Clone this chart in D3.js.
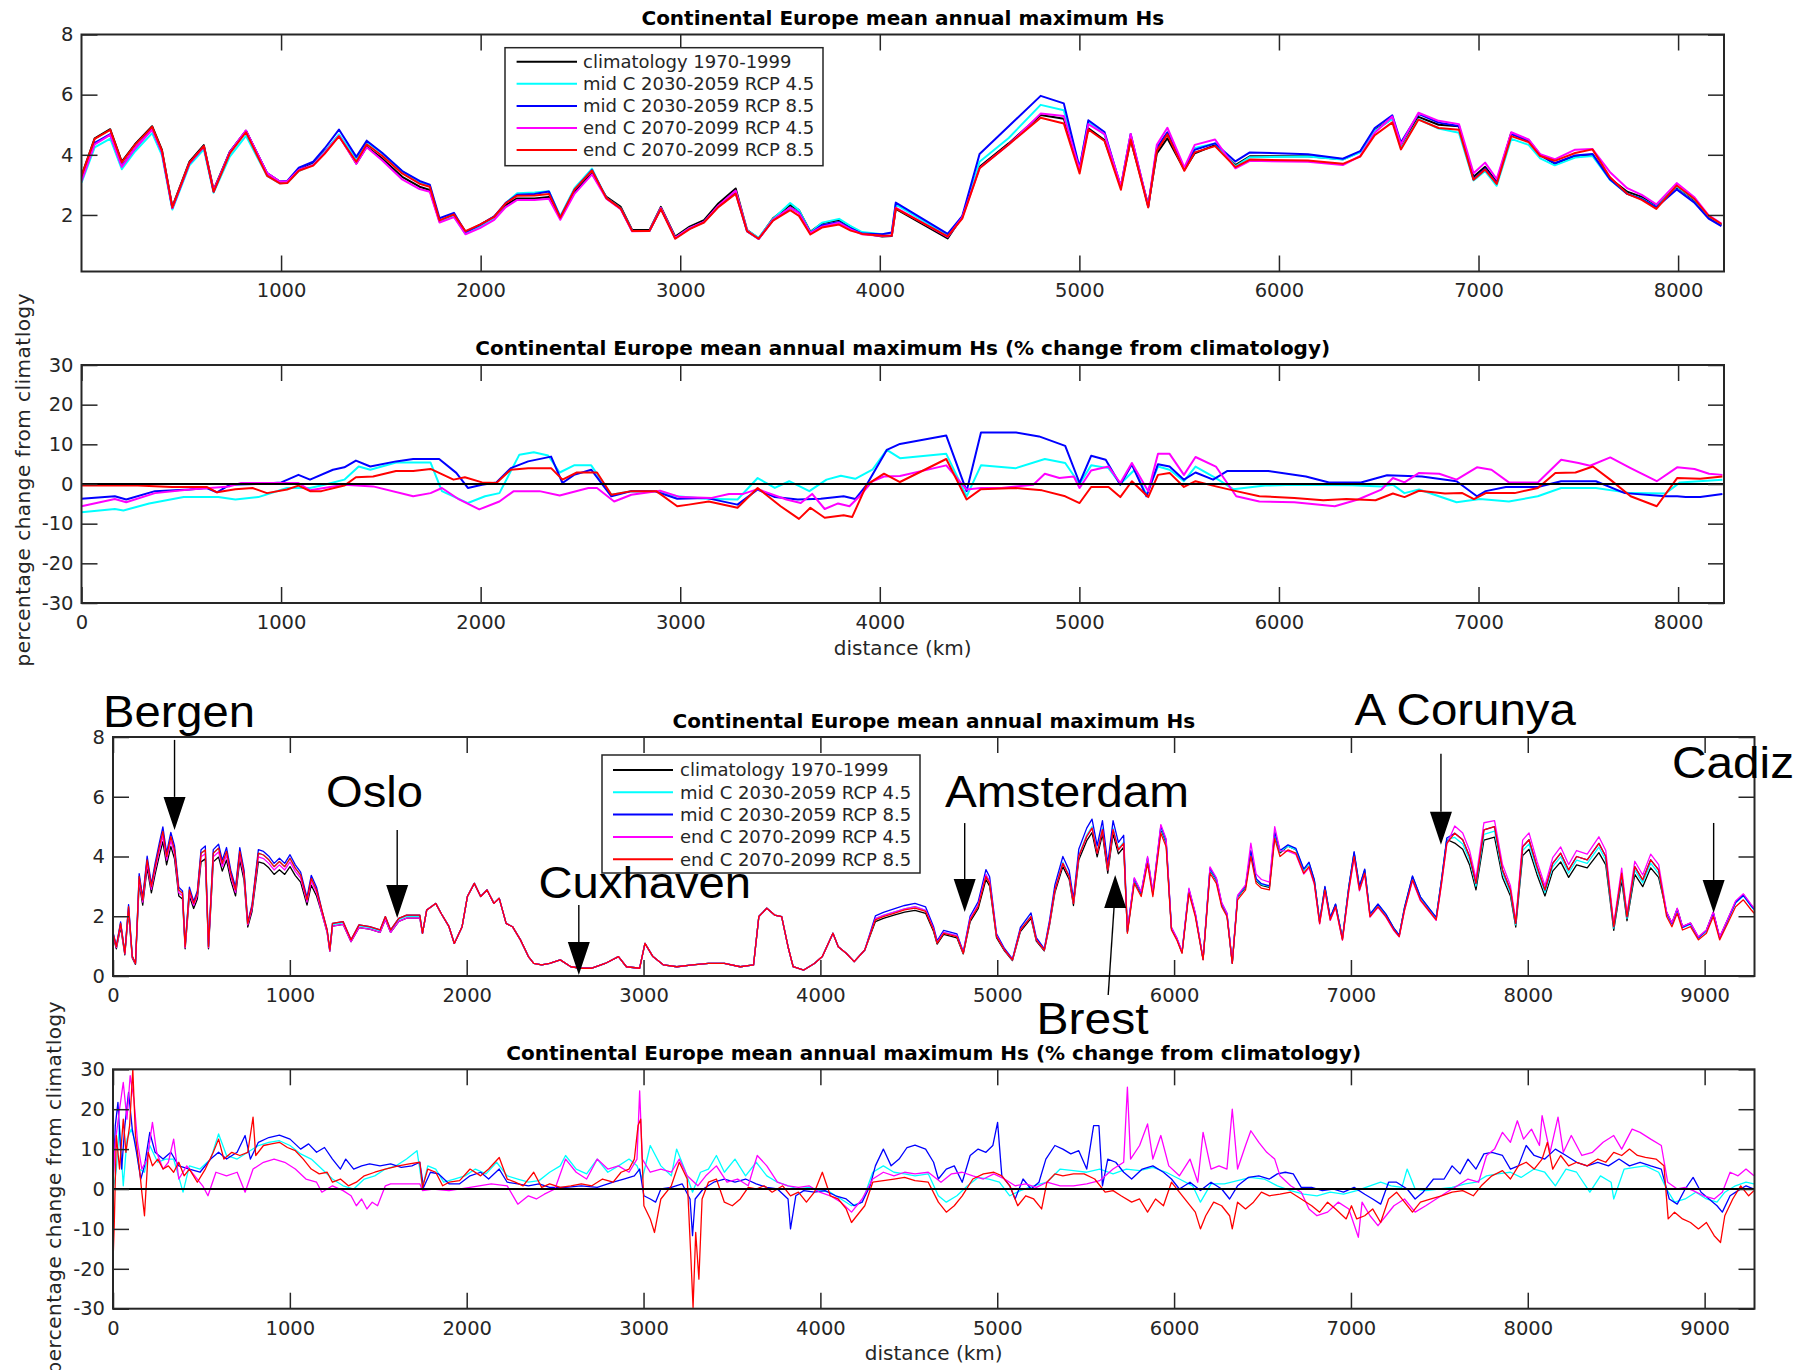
<!DOCTYPE html>
<html><head><meta charset="utf-8">
<script src="https://cdn.jsdelivr.net/npm/d3@7"></script>
<style>html,body{margin:0;padding:0;background:#fff;}svg{display:block;}</style>
</head><body>
<svg id="chart" width="1810" height="1370"></svg>
<script>
// ================= DATA =================
const seriesNames = ["climatology 1970-1999","mid C 2030-2059 RCP 4.5","mid C 2030-2059 RCP 8.5","end C 2070-2099 RCP 4.5","end C 2070-2099 RCP 8.5"];
const seriesColors = ["#000000","#00ffff","#0000ff","#ff00ff","#ff0000"];
const title1 = "Continental Europe mean annual maximum Hs";
const title2 = "Continental Europe mean annual maximum Hs (% change from climatology)";
const xLabelText = "distance (km)";
const yLabelText = "percentage change from climatlogy";
const ticksX12 = [1000,2000,3000,4000,5000,6000,7000,8000];
const ticksX2 = [0,1000,2000,3000,4000,5000,6000,7000,8000];
const ticksX34 = [0,1000,2000,3000,4000,5000,6000,7000,8000,9000];
const ticksHs1 = [2,4,6,8];
const ticksHs3 = [0,2,4,6,8];
const ticksPct = [-30,-20,-10,0,10,20,30];

// ---- Panel 1 (coarse coastline), distance km ----
const dist1 = [0,66,144,202,268,354,403,455,541,613,662,743,824,930,994,1031,1089,1161,1218,1290,1377,1429,1506,1607,1694,1745,1794,1866,1924,1996,2068,2126,2183,2270,2342,2399,2471,2558,2630,2702,2759,2846,2903,2975,3047,3119,3191,3278,3335,3393,3465,3551,3595,3652,3710,3796,3854,3911,4012,4060,4080,4340,4413,4500,4646,4806,4922,5001,5045,5126,5208,5257,5345,5388,5441,5526,5578,5680,5782,5854,6145,6320,6407,6480,6568,6611,6699,6800,6902,6975,7033,7091,7164,7251,7309,7382,7484,7571,7658,7745,7818,7891,7993,8080,8153,8217];
const clim1 = [3.30,4.55,4.85,3.77,4.35,4.95,4.16,2.27,3.77,4.32, 2.83,4.10,4.80,3.38,3.10,3.10,3.49,3.71,4.10,4.65, 3.71,4.27,3.88,3.27,2.94,2.83,1.78,2.00,1.44,1.67, 1.94,2.33,2.55,2.55,2.60,1.89,2.77,3.38,2.60,2.27, 1.50,1.50,2.27,1.28,1.61,1.83,2.38,2.88,1.50,1.22, 1.89,2.33,2.16,1.44,1.72,1.83,1.61,1.39,1.28,1.30, 2.20,1.22,1.94,3.60,4.38,5.32,5.20,3.55,4.88,4.49, 2.94,4.49,2.33,4.05,4.55,3.50,4.05,4.32,3.66,3.95, 3.95,3.85,4.10,4.82,5.20,4.32,5.26,5.00,4.95,3.27, 3.60,3.10,4.73,4.49,4.00,3.71,3.95,4.00,3.22,2.77, 2.60,2.33,2.94,2.50,1.94,1.67];
const mid45_1 = [3.07,4.25,4.54,3.52,4.11,4.72,3.99,2.18,3.65,4.18, 2.74,3.94,4.63,3.30,3.05,3.07,3.46,3.68,4.09,4.68, 3.86,4.43,4.05,3.45,3.10,2.98,1.78,1.95,1.37,1.61, 1.89,2.40,2.72,2.75,2.79,1.96,2.90,3.54,2.56,2.22, 1.47,1.47,2.22,1.24,1.56,1.76,2.29,2.77,1.49,1.24, 1.87,2.40,2.16,1.42,1.74,1.87,1.63,1.43,1.36,1.40, 2.35,1.31,1.92,3.77,4.56,5.66,5.48,3.55,5.10,4.67, 2.94,4.64,2.27,4.22,4.72,3.52,4.23,4.38,3.62,3.92, 3.94,3.84,4.08,4.80,5.19,4.22,5.19,4.87,4.73,3.15, 3.46,2.97,4.53,4.33,3.88,3.65,3.91,3.96,3.17,2.71, 2.54,2.27,2.95,2.52,1.96,1.69];
const mid85_1 = [3.18,4.40,4.69,3.63,4.21,4.86,4.09,2.23,3.72,4.27, 2.78,4.09,4.80,3.39,3.11,3.13,3.57,3.77,4.21,4.84, 3.93,4.47,4.07,3.46,3.13,3.01,1.89,2.07,1.43,1.66, 1.95,2.40,2.67,2.70,2.78,1.92,2.84,3.49,2.56,2.21, 1.47,1.47,2.21,1.23,1.55,1.77,2.28,2.73,1.45,1.20, 1.83,2.24,2.08,1.39,1.66,1.77,1.55,1.38,1.36,1.42, 2.41,1.37,1.96,4.03,4.95,5.96,5.71,3.56,5.15,4.76, 2.93,4.69,2.27,4.23,4.75,3.54,4.17,4.38,3.78,4.08, 4.02,3.87,4.12,4.89,5.31,4.41,5.36,5.07,4.96,3.19, 3.54,3.06,4.69,4.46,3.98,3.72,3.98,4.03,3.19,2.70, 2.53,2.26,2.85,2.42,1.88,1.63];
const end45_1 = [3.12,4.35,4.66,3.60,4.21,4.84,4.08,2.23,3.72,4.27, 2.81,4.08,4.81,3.39,3.11,3.11,3.50,3.66,4.06,4.63, 3.70,4.25,3.82,3.18,2.86,2.77,1.75,1.93,1.36,1.56, 1.84,2.26,2.50,2.50,2.54,1.84,2.71,3.35,2.54,2.19, 1.46,1.47,2.23,1.24,1.56,1.77,2.31,2.81,1.47,1.20, 1.84,2.24,2.06,1.40,1.61,1.74,1.52,1.36,1.30,1.32, 2.24,1.27,1.91,3.56,4.34,5.37,5.29,3.51,5.02,4.69, 2.95,4.69,2.29,4.33,4.90,3.58,4.33,4.51,3.55,3.80, 3.77,3.66,3.96,4.73,5.27,4.34,5.40,5.13,5.02,3.39, 3.74,3.19,4.75,4.51,4.02,3.85,4.17,4.19,3.43,2.89, 2.67,2.35,3.06,2.60,1.99,1.71];
const end85_1 = [3.29,4.53,4.83,3.75,4.33,4.93,4.14,2.25,3.74,4.29, 2.77,4.05,4.75,3.30,3.05,3.06,3.47,3.64,4.03,4.61, 3.77,4.35,3.97,3.38,3.04,2.94,1.82,2.02,1.46,1.68, 1.94,2.39,2.64,2.65,2.70,1.91,2.85,3.48,2.56,2.21, 1.47,1.47,2.20,1.21,1.53,1.75,2.26,2.71,1.46,1.21, 1.81,2.16,1.97,1.35,1.58,1.68,1.48,1.37,1.31,1.32, 2.22,1.29,1.88,3.55,4.34,5.23,5.04,3.38,4.84,4.46, 2.84,4.51,2.25,4.13,4.68,3.47,4.08,4.29,3.59,3.84, 3.81,3.70,3.94,4.65,5.08,4.18,5.17,4.89,4.83,3.17, 3.51,3.03,4.62,4.42,3.96,3.80,4.06,4.18,3.26,2.70, 2.50,2.20,2.98,2.54,1.97,1.70];

// ---- Panel 2: % change, [distance km, %] ----
const pct2_mid45 = [[0,-7.1],[167,-6.3],[210,-6.7],[339,-4.9],[512,-3.3],[685,-3.3],[771,-3.9],[886,-3.3],[1030,-1.0],[1145,-1.0],[1217,-0.2],[1317,1.1],[1389,4.4],[1447,3.6],[1576,5.4],[1749,5.4],[1806,-1.8],[1936,-4.8],[2022,-3.1],[2094,-2.3],[2194,7.4],[2266,8.0],[2338,7.2],[2396,2.9],[2468,4.7],[2554,4.7],[2655,-2.7],[2755,-1.8],[2870,-1.8],[2985,-3.1],[3129,-3.7],[3287,-3.9],[3388,1.5],[3474,-1.0],[3546,0.7],[3647,-1.8],[3733,1.1],[3805,2.1],[3877,1.3],[3963,3.6],[4035,8.6],[4101,6.5],[4333,7.6],[4435,-3.1],[4507,4.7],[4682,4.0],[4827,6.3],[4929,5.3],[5001,0],[5059,4.7],[5146,4.0],[5205,0],[5277,3.6],[5336,-2.7],[5394,4.4],[5452,3.6],[5524,0.7],[5582,4.4],[5684,1.5],[5771,-1.3],[5931,-0.4],[6077,-0.2],[6367,-0.3],[6513,-0.6],[6571,-0.2],[6629,-2.3],[6702,-1.4],[6890,-4.6],[7007,-3.8],[7152,-4.4],[7297,-3.1],[7414,-1.0],[7588,-1.0],[7762,-2.3],[7937,-2.4],[8009,0.4],[8222,1.1]];
const pct2_mid85 = [[0,-3.7],[167,-3.1],[224,-3.9],[368,-1.8],[541,-1.4],[627,-1.0],[679,-2.1],[742,-0.2],[886,0],[1001,0.4],[1087,2.3],[1145,1.1],[1260,3.6],[1317,4.2],[1375,5.9],[1447,4.4],[1576,5.7],[1662,6.3],[1792,6.3],[1878,2.8],[1936,-1.0],[2007,-0.2],[2079,0.4],[2151,4.0],[2238,5.7],[2353,6.9],[2410,0.25],[2468,2.3],[2554,3.6],[2655,-3.1],[2755,-1.8],[2870,-1.8],[2985,-3.7],[3129,-3.5],[3287,-5.2],[3388,-1.4],[3474,-3.3],[3589,-3.9],[3704,-3.7],[3819,-3.1],[3877,-3.8],[3934,-0.2],[4035,8.6],[4101,10.1],[4333,12.2],[4435,-1.8],[4507,13.0],[4682,13.0],[4798,12.0],[4929,9.6],[5001,0.25],[5059,7.1],[5132,6.1],[5205,-0.2],[5263,4.9],[5336,-3.1],[5394,5.0],[5452,4.4],[5524,1.1],[5582,2.9],[5670,1.1],[5742,3.3],[5946,3.3],[6135,1.9],[6251,0.4],[6411,0.4],[6542,2.2],[6716,1.9],[6890,0.7],[6992,-3.1],[7036,-1.8],[7137,-0.75],[7297,-0.75],[7414,0.7],[7588,0.7],[7733,-2.3],[7937,-3.1],[7995,-3.1],[8038,-3.3],[8111,-3.3],[8222,-2.5]];
const pct2_end45 = [[0,-5.6],[167,-3.8],[224,-4.6],[368,-2.3],[541,-1.4],[742,-0.6],[800,0.25],[1087,0.25],[1145,-1.6],[1317,-0.2],[1461,-0.6],[1662,-3.1],[1749,-2.3],[1806,-1.0],[1892,-3.9],[1993,-6.4],[2094,-4.4],[2166,-1.8],[2295,-1.8],[2396,-2.9],[2540,-1.0],[2583,-1.0],[2669,-4.4],[2755,-2.7],[2899,-1.7],[3000,-3.3],[3158,-3.5],[3244,-2.5],[3316,-2.5],[3388,-1.3],[3532,-3.9],[3604,-4.8],[3661,-2.5],[3724,-6.3],[3791,-4.9],[3848,-5.6],[3906,-2.7],[3963,0.7],[4021,1.9],[4101,2.0],[4333,4.7],[4435,-1.4],[4507,-1.0],[4609,-1.0],[4769,-0.2],[4827,2.6],[4900,1.5],[4972,1.9],[5001,-1.0],[5059,3.4],[5146,4.4],[5205,0.25],[5263,5.3],[5345,-1.8],[5394,7.6],[5452,7.6],[5524,2.3],[5582,6.8],[5684,4.4],[5786,-3.1],[5902,-4.4],[6077,-4.6],[6280,-5.6],[6396,-3.9],[6513,-1.4],[6571,1.5],[6629,0.4],[6702,2.8],[6803,2.6],[6890,1.1],[6992,4.2],[7065,3.6],[7152,0.4],[7297,0.4],[7414,6.1],[7501,5.3],[7559,4.6],[7660,6.7],[7762,4.0],[7893,0.7],[7995,4.2],[8082,3.8],[8155,2.6],[8222,2.3]];
const pct2_end85 = [[0,-0.4],[282,-0.4],[454,-0.75],[627,-0.75],[679,-2.1],[771,-1.3],[857,-1.0],[929,-2.3],[1030,-1.4],[1087,-0.4],[1145,-1.8],[1202,-1.8],[1317,-0.4],[1375,1.7],[1461,1.9],[1576,3.3],[1662,3.3],[1749,3.8],[1864,1.1],[1921,1.7],[2007,0.4],[2079,0.25],[2151,3.6],[2238,4.0],[2353,4.0],[2410,1.1],[2482,2.9],[2583,2.9],[2655,-2.7],[2755,-1.8],[2880,-1.8],[2985,-5.6],[3043,-5.2],[3143,-4.4],[3287,-6.0],[3388,-1.0],[3503,-5.6],[3595,-8.8],[3652,-6.0],[3724,-8.5],[3819,-7.9],[3862,-8.3],[3934,-0.2],[4021,2.6],[4101,0.5],[4333,6.3],[4435,-3.9],[4507,-1.3],[4682,-1.0],[4813,-1.6],[4929,-3.1],[5001,-4.8],[5059,-0.75],[5146,-0.75],[5205,-3.3],[5263,0.7],[5345,-3.3],[5394,2.3],[5452,2.8],[5524,-0.75],[5582,0.7],[5684,-0.6],[5786,-1.8],[5902,-3.1],[6077,-3.5],[6222,-4.1],[6338,-3.8],[6484,-4.1],[6571,-2.4],[6629,-3.3],[6702,-1.7],[6832,-2.4],[6919,-2.3],[6977,-3.8],[7036,-2.3],[7181,-2.3],[7297,-1.0],[7385,2.8],[7486,2.9],[7573,4.4],[7660,1.1],[7762,-3.1],[7893,-5.6],[7995,1.5],[8111,1.3],[8222,1.9]];

// ---- Panel 3 (fine coastline), distance km ----
const dist3 = [0,19,43,67,88,109,127,148,168,193,217,238,262,282,303,327,348,372,393,408,432,456,477,498,522,540,567,597,618,642,666,693,717,741,762,786,822,851,881,911,941,971,1001,1031,1061,1097,1121,1151,
 1181,1211,1226,1241,1301,1346,1391,1451,1510,1540,1570,1616,1660,1735,
 1750,1774,1825,1855,1900,1930,1974,2004,2043,2079,2115,2154,2184,2223,2259,2304,2349,2379,2424,2469,2529,2589,2648,2708,2783,2858,2903,2978,3008,3053,3113,3188,3277,3367,3457,3547,3622,3652,3697,3741,3781,3817,3846,3906,3966,4011,4071,4101,4146,4191,4251,
 4311,4356,4416,4476,4535,4595,4640,4660,4697,4772,4808,4847,4892,4936,4957,4996,
 5041,5086,5131,5191,5221,5266,5296,5326,5371,5407,5431,5461,5506,5536,5565,5595,5625,5655,5685,5715,
 5736,5775,5814,5850,5880,5925,5955,5985,6015,6045,6084,6120,6164,6203,6239,6269,6299,6329,6359,6404,6434,6464,6494,6539,6569,6599,
 6644,6689,6733,6763,6793,6823,6853,6883,6913,6952,6988,7018,7048,7078,7108,7153,7198,7243,7273,7303,7348,7393,7438,7482,7512,7542,
 7587,7632,7671,7707,7752,7812,7857,7902,7932,7971,8007,8052,8097,8141,8186,8231,8276,8336,8402,8441,8486,8531,8561,8605,8650,8695,8740,
 8785,8815,8845,8875,8920,8965,9010,9049,9085,9130,9175,9219,9264,9280];
const clim3 = [1.33,0.91,1.64,0.71,2.16,0.60,0.39,3.10,2.37,3.62,2.78,3.40,4.03,4.50,3.72,4.34,3.92,2.68,2.58,0.91,2.68,2.26,2.58,3.82,3.92,0.91,3.82,3.98,3.51,3.88,3.20,2.68,3.88,3.20,1.64,2.16,3.82,3.77,3.62,3.40,3.56,3.40,3.66,3.36,3.14,2.37,3.04,2.68,
 2.10,1.46,0.83,1.67,1.73,1.15,1.62,1.57,1.46,1.89,1.46,1.83,1.94,1.94,
 1.43,2.21,2.43,2.10,1.65,1.09,1.65,2.66,3.10,2.66,2.88,2.43,2.60,1.76,1.65,1.21,0.65,0.42,0.37,0.42,0.54,0.31,0.26,0.26,0.42,0.65,0.31,0.26,1.09,0.65,0.37,0.31,0.37,0.42,0.42,0.31,0.37,1.99,2.27,2.04,1.99,0.98,0.31,0.20,0.42,0.65,1.43,0.98,0.76,0.48,0.87,
 1.82,1.93,2.04,2.14,2.20,2.10,1.49,1.07,1.39,1.28,0.74,1.82,2.25,3.23,3.01,1.28,
 0.84,0.52,1.49,1.93,1.17,0.84,1.71,2.79,3.66,3.23,2.36,3.88,4.53,4.80,3.99,4.75,3.44,4.75,4.09,4.31,
 1.47,3.19,2.74,3.88,2.74,4.92,4.46,1.59,1.25,0.78,2.85,2.05,0.56,3.54,3.19,2.39,2.05,0.43,2.63,2.97,4.12,3.19,3.03,2.97,4.74,4.12,
 4.35,4.23,3.54,3.77,3.19,1.81,2.97,1.94,2.39,1.25,2.97,4.12,2.97,3.54,2.05,2.39,2.05,1.59,1.36,2.28,3.32,2.63,2.28,1.94,3.19,4.57,
 4.45,4.24,3.72,2.88,4.55,4.65,3.30,2.68,1.64,4.03,4.24,3.40,2.68,3.51,3.82,3.30,3.72,3.62,4.13,3.72,1.53,3.20,1.85,3.40,2.99,3.62,3.30,
 2.13,1.77,2.25,1.65,1.77,1.29,1.53,2.13,1.29,1.88,2.48,2.73,2.36,2.25];
const mid45_3 = [1.43,0.98,1.76,0.76,2.32,0.65,0.42,3.33,2.55,3.89,2.99,3.66,4.33,4.84,4.00,4.67,4.22,2.88,2.77,0.98,2.88,2.43,2.77,4.11,4.22,0.98,4.11,4.28,3.77,4.17,3.44,2.88,4.17,3.44,1.76,2.32,4.11,4.05,3.89,3.66,3.83,3.66,3.94,3.61,3.38,2.55,3.27,2.88,
 2.17,1.51,0.85,1.72,1.78,1.19,1.68,1.62,1.51,1.95,1.51,1.89,2.00,2.00,
 1.43,2.21,2.43,2.10,1.65,1.09,1.65,2.66,3.10,2.66,2.88,2.43,2.60,1.76,1.65,1.21,0.65,0.42,0.37,0.42,0.54,0.31,0.26,0.26,0.42,0.65,0.31,0.26,1.09,0.65,0.37,0.31,0.37,0.42,0.42,0.31,0.37,1.99,2.27,2.04,1.99,0.98,0.31,0.20,0.42,0.65,1.43,0.98,0.76,0.48,0.87,
 1.92,2.03,2.14,2.25,2.32,2.20,1.57,1.12,1.46,1.35,0.78,1.92,2.37,3.40,3.16,1.35,
 0.88,0.55,1.56,2.01,1.22,0.88,1.78,2.91,3.81,3.36,2.45,4.04,4.72,5.00,4.15,4.95,3.59,4.95,4.26,4.48,
 1.49,3.22,2.77,3.92,2.77,4.97,4.50,1.60,1.26,0.79,2.88,2.07,0.56,3.58,3.22,2.41,2.07,0.44,2.65,3.00,4.16,3.22,3.06,3.00,4.78,4.16,
 4.35,4.23,3.54,3.77,3.19,1.81,2.97,1.94,2.39,1.25,2.97,4.12,2.97,3.54,2.05,2.39,2.05,1.59,1.36,2.28,3.32,2.63,2.28,1.94,3.19,4.57,
 4.64,4.42,3.88,3.01,4.74,4.85,3.44,2.79,1.71,4.20,4.42,3.55,2.79,3.66,3.99,3.44,3.88,3.77,4.31,3.88,1.60,3.34,1.93,3.55,3.12,3.77,3.44,
 2.09,1.73,2.21,1.62,1.73,1.27,1.50,2.09,1.27,1.85,2.44,2.68,2.32,2.21];
const mid85_3 = [1.47,1.01,1.81,0.78,2.39,0.67,0.43,3.43,2.63,4.01,3.08,3.77,4.46,4.99,4.12,4.81,4.35,2.97,2.85,1.01,2.97,2.50,2.85,4.23,4.35,1.01,4.23,4.41,3.88,4.30,3.54,2.97,4.30,3.54,1.81,2.39,4.23,4.17,4.01,3.77,3.94,3.77,4.06,3.72,3.48,2.63,3.37,2.97,
 2.21,1.54,0.87,1.76,1.82,1.21,1.71,1.65,1.54,1.99,1.54,1.93,2.04,2.04,
 1.43,2.21,2.43,2.10,1.65,1.09,1.65,2.66,3.10,2.66,2.88,2.43,2.60,1.76,1.65,1.21,0.65,0.42,0.37,0.42,0.54,0.31,0.26,0.26,0.42,0.65,0.31,0.26,1.09,0.65,0.37,0.31,0.37,0.42,0.42,0.31,0.37,1.99,2.27,2.04,1.99,0.98,0.31,0.20,0.42,0.65,1.43,0.98,0.76,0.48,0.87,
 2.01,2.13,2.25,2.36,2.43,2.31,1.65,1.18,1.53,1.41,0.81,2.01,2.48,3.56,3.32,1.41,
 0.92,0.57,1.63,2.11,1.28,0.92,1.87,3.05,4.00,3.53,2.58,4.24,4.95,5.25,4.36,5.20,3.76,5.20,4.47,4.71,
 1.50,3.26,2.79,3.96,2.79,5.02,4.55,1.62,1.27,0.80,2.91,2.09,0.57,3.61,3.26,2.44,2.09,0.44,2.68,3.02,4.20,3.26,3.09,3.02,4.83,4.20,
 4.39,4.27,3.58,3.81,3.22,1.83,3.00,1.96,2.41,1.26,3.00,4.16,3.00,3.58,2.07,2.41,2.07,1.60,1.37,2.30,3.35,2.65,2.30,1.96,3.22,4.62,
 4.78,4.56,4.00,3.10,4.89,5.00,3.55,2.88,1.76,4.33,4.56,3.66,2.88,3.77,4.11,3.55,4.00,3.89,4.44,4.00,1.65,3.44,1.99,3.66,3.22,3.89,3.55,
 2.11,1.75,2.23,1.63,1.75,1.28,1.52,2.11,1.28,1.87,2.46,2.70,2.34,2.23];
const end45_3 = [1.39,0.95,1.71,0.74,2.25,0.63,0.41,3.23,2.47,3.77,2.90,3.55,4.20,4.69,3.88,4.53,4.09,2.79,2.69,0.95,2.79,2.36,2.69,3.99,4.09,0.95,3.99,4.15,3.66,4.04,3.34,2.79,4.04,3.34,1.71,2.25,3.99,3.93,3.77,3.55,3.72,3.55,3.82,3.50,3.28,2.47,3.17,2.79,
 2.10,1.46,0.83,1.67,1.73,1.15,1.62,1.57,1.46,1.89,1.46,1.83,1.94,1.94,
 1.43,2.21,2.43,2.10,1.65,1.09,1.65,2.66,3.10,2.66,2.88,2.43,2.60,1.76,1.65,1.21,0.65,0.42,0.37,0.42,0.54,0.31,0.26,0.26,0.42,0.65,0.31,0.26,1.09,0.65,0.37,0.31,0.37,0.42,0.42,0.31,0.37,1.99,2.27,2.04,1.99,0.98,0.31,0.20,0.42,0.65,1.43,0.98,0.76,0.48,0.87,
 1.92,2.03,2.14,2.25,2.32,2.20,1.57,1.12,1.46,1.35,0.78,1.92,2.37,3.40,3.16,1.35,
 0.87,0.54,1.54,1.99,1.21,0.87,1.76,2.88,3.77,3.33,2.43,4.00,4.67,4.95,4.11,4.90,3.55,4.90,4.22,4.44,
 1.52,3.29,2.82,4.00,2.82,5.07,4.59,1.63,1.28,0.81,2.94,2.11,0.57,3.65,3.29,2.46,2.11,0.45,2.70,3.05,4.45,3.41,3.23,3.14,5.00,4.20,
 4.18,4.07,3.41,3.62,3.07,1.74,2.85,1.86,2.30,1.20,2.85,3.96,2.85,3.41,1.97,2.30,1.97,1.52,1.31,2.19,3.19,2.52,2.19,1.86,3.07,4.40,
 5.02,4.79,4.20,3.26,5.13,5.20,3.73,3.02,1.85,4.55,4.79,3.84,3.02,3.96,4.32,3.73,4.20,4.08,4.66,4.20,1.73,3.61,2.09,3.84,3.38,4.08,3.73,
 2.15,1.78,2.27,1.66,1.78,1.31,1.54,2.15,1.31,1.90,2.51,2.75,2.39,2.27];
const end85_3 = [1.43,0.98,1.76,0.76,2.32,0.65,0.42,3.33,2.55,3.89,2.99,3.66,4.33,4.84,4.00,4.67,4.22,2.88,2.77,0.98,2.88,2.43,2.77,4.11,4.22,0.98,4.11,4.28,3.77,4.17,3.44,2.88,4.17,3.44,1.76,2.32,4.11,4.05,3.89,3.66,3.83,3.66,3.94,3.61,3.38,2.55,3.27,2.88,
 2.21,1.54,0.87,1.76,1.82,1.21,1.71,1.65,1.54,1.99,1.54,1.93,2.04,2.04,
 1.43,2.21,2.43,2.10,1.65,1.09,1.65,2.66,3.10,2.66,2.88,2.43,2.60,1.76,1.65,1.21,0.65,0.42,0.37,0.42,0.54,0.31,0.26,0.26,0.42,0.65,0.31,0.26,1.09,0.65,0.37,0.31,0.37,0.42,0.42,0.31,0.37,1.99,2.27,2.04,1.99,0.98,0.31,0.20,0.42,0.65,1.43,0.98,0.76,0.48,0.87,
 1.88,1.99,2.10,2.21,2.27,2.16,1.54,1.10,1.43,1.32,0.76,1.88,2.32,3.33,3.10,1.32,
 0.87,0.54,1.54,1.99,1.21,0.87,1.76,2.88,3.77,3.33,2.43,4.00,4.67,4.95,4.11,4.90,3.55,4.90,4.22,4.44,
 1.43,3.10,2.66,3.77,2.66,4.78,4.33,1.54,1.21,0.76,2.77,1.99,0.54,3.44,3.10,2.32,1.99,0.42,2.55,2.88,4.00,3.10,2.94,2.88,4.60,4.00,
 4.22,4.11,3.44,3.66,3.10,1.76,2.88,1.88,2.32,1.21,2.88,4.00,2.88,3.44,1.99,2.32,1.99,1.54,1.32,2.21,3.22,2.55,2.21,1.88,3.10,4.44,
 4.78,4.56,4.00,3.10,4.89,5.00,3.55,2.88,1.76,4.33,4.56,3.66,2.88,3.77,4.11,3.55,4.00,3.89,4.44,4.00,1.65,3.44,1.99,3.66,3.22,3.89,3.55,
 1.99,1.65,2.10,1.54,1.65,1.21,1.43,1.99,1.21,1.76,2.32,2.55,2.21,2.10];

// ---- Panel 4: % change, [distance km, %] ----
const pct4_mid45 = [[0,-0.8],[19,5.0],[37,15.9],[58,0.8],[79,12.5],[103,15.0],[127,11.7],[148,5.0],[178,4.2],[208,10.9],[253,6.7],[298,7.5],[343,7.5],[396,-0.8],[432,5.8],[492,5.0],[552,7.5],[597,13.8],[642,8.4],[702,7.5],[762,9.2],[822,10.9],[881,11.7],[941,12.1],[1001,10.9],[1061,8.8],[1121,7.5],[1181,5.0],[1241,2.5],[1301,0.8],[1361,0],[1421,2.5],[1480,3.3],[1540,5.0],[1600,5.8],[1660,7.5],[1719,9.6],[1750,0.4],[1780,5.8],[1825,5.0],[1870,1.7],[1930,2.5],[1990,3.3],[2049,5.0],[2109,3.8],[2169,6.7],[2229,3.3],[2289,2.5],[2349,1.7],[2409,2.1],[2469,4.2],[2529,5.8],[2559,8.4],[2619,5.0],[2678,3.8],[2738,7.5],[2798,4.2],[2858,5.8],[2918,7.5],[2963,5.8],[2993,2.5],[3038,10.9],[3098,5.8],[3157,3.3],[3187,10.0],[3232,5.0],[3277,-0.8],[3322,4.2],[3367,5.0],[3412,8.4],[3457,4.2],[3517,7.5],[3577,3.3],[3637,6.7],[3697,3.3],[3757,1.7],[3817,0.8],[3876,0],[3936,0.4],[3996,-0.4],[4056,-0.8],[4116,-2.5],[4176,-4.2],[4236,-3.3],[4296,4.2],[4356,5.8],[4416,4.2],[4476,3.8],[4535,3.3],[4610,3.8],[4667,-1.7],[4712,-3.3],[4772,-1.7],[4832,0.8],[4892,2.9],[4952,2.5],[5012,1.7],[5071,-1.7],[5131,-0.4],[5206,0.8],[5281,1.7],[5356,5.0],[5431,4.6],[5506,4.2],[5580,5.0],[5655,3.8],[5730,5.0],[5805,4.6],[5880,5.4],[5955,4.2],[6030,2.5],[6105,0.8],[6149,-3.3],[6209,1.3],[6284,1.3],[6359,2.1],[6434,2.9],[6509,2.5],[6584,0.8],[6659,-0.4],[6733,-1.3],[6808,-1.7],[6883,-0.8],[6958,-1.3],[7033,-0.4],[7108,0.8],[7168,1.7],[7228,0.8],[7288,0.4],[7318,5.0],[7363,0],[7423,-0.4],[7497,0],[7572,0.4],[7647,1.3],[7707,1.7],[7767,3.3],[7827,3.8],[7902,4.2],[7962,2.9],[8036,5.0],[8096,4.2],[8156,0.8],[8216,5.0],[8276,4.2],[8351,-0.8],[8411,3.3],[8471,1.7],[8486,-2.5],[8545,5.0],[8605,5.4],[8665,5.8],[8740,4.2],[8785,0],[8830,-3.3],[8890,-2.5],[8950,-0.8],[9010,-2.5],[9070,-3.3],[9114,-0.8],[9174,0.8],[9234,1.7],[9279,1.3]];
const pct4_mid85 = [[0,0.8],[13,15.9],[28,21.7],[49,5.0],[67,15.9],[88,24.2],[109,15.0],[133,9.2],[157,2.5],[178,5.8],[208,14.2],[238,9.2],[283,7.5],[327,9.2],[372,5.8],[432,5.0],[492,4.2],[552,7.5],[597,9.2],[642,7.5],[702,9.2],[747,13.4],[777,7.5],[822,11.7],[881,12.9],[941,13.5],[1001,12.5],[1061,10.0],[1106,11.3],[1151,9.2],[1196,10.4],[1241,7.5],[1286,5.0],[1316,7.5],[1361,5.0],[1406,5.8],[1451,6.3],[1510,5.8],[1570,6.3],[1630,5.4],[1690,5.8],[1735,6.7],[1756,0.4],[1795,4.2],[1840,3.8],[1900,1.3],[1960,1.3],[2019,3.3],[2079,4.2],[2124,2.5],[2184,5.0],[2229,1.7],[2289,1.3],[2349,0.8],[2409,1.3],[2469,0.4],[2559,0.4],[2648,0.8],[2738,0.4],[2828,1.7],[2888,2.5],[2948,3.3],[2978,5.0],[3002,-1.7],[3038,-2.5],[3068,-3.3],[3098,0],[3157,0.4],[3218,1.3],[3263,-2.5],[3277,-11.7],[3292,-2.5],[3337,0],[3397,1.7],[3457,2.5],[3517,1.7],[3577,2.5],[3637,1.3],[3697,0.4],[3757,0],[3817,-2.5],[3831,-10.0],[3861,-1.7],[3906,-0.4],[3966,-0.8],[4026,-0.4],[4086,-1.7],[4146,-2.5],[4191,-4.2],[4236,-3.3],[4281,0.8],[4311,5.8],[4356,10.0],[4400,5.8],[4445,7.5],[4490,10.4],[4535,11.0],[4595,10.0],[4640,6.7],[4667,2.5],[4712,5.0],[4757,5.8],[4802,1.7],[4847,8.4],[4892,10.0],[4936,9.2],[4975,10.9],[5002,16.7],[5026,3.3],[5071,0.8],[5101,-2.5],[5146,2.5],[5191,0],[5236,1.7],[5275,7.5],[5326,10.9],[5371,10.0],[5416,8.8],[5461,9.6],[5506,5.0],[5545,15.9],[5575,15.9],[5595,0.8],[5625,7.5],[5670,6.7],[5715,4.2],[5760,2.5],[5820,5.0],[5880,5.8],[5940,4.2],[5985,2.5],[6030,0],[6090,1.7],[6149,-0.4],[6209,1.7],[6269,0],[6314,-2.5],[6359,0.8],[6419,2.9],[6479,3.3],[6539,2.5],[6584,3.8],[6629,4.2],[6674,3.8],[6719,0.4],[6778,0.4],[6838,-0.4],[6898,0],[6958,-0.8],[7018,0.4],[7078,-1.3],[7123,-2.5],[7168,-3.8],[7213,1.7],[7258,1.7],[7318,0],[7363,-2.5],[7408,-0.8],[7467,2.5],[7527,2.5],[7572,5.8],[7617,3.8],[7662,7.5],[7707,5.0],[7752,8.8],[7797,9.2],[7857,8.4],[7902,5.0],[7947,5.8],[7991,10.9],[8036,8.4],[8096,7.5],[8156,10.0],[8216,8.4],[8276,6.7],[8336,5.8],[8396,6.7],[8456,5.8],[8516,7.5],[8575,5.8],[8635,6.7],[8695,5.8],[8755,5.0],[8800,-2.5],[8845,-3.8],[8890,0],[8935,2.9],[8980,-0.8],[9025,-2.5],[9070,-4.2],[9100,-5.8],[9144,-1.7],[9189,-0.4],[9234,0.8],[9279,0]];
const pct4_end45 = [[0,1.7],[13,11.7],[37,20.0],[58,26.7],[79,17.5],[97,28.4],[118,22.6],[139,11.7],[163,5.0],[193,7.5],[223,16.7],[247,9.2],[283,5.0],[313,6.7],[343,12.5],[372,2.5],[417,5.8],[462,3.3],[507,0.8],[537,-1.7],[582,4.2],[642,3.3],[702,4.2],[747,-0.8],[792,5.0],[851,6.7],[911,7.5],[971,6.7],[1031,5.0],[1091,2.5],[1151,1.7],[1181,-0.8],[1241,0.8],[1301,-0.4],[1346,-1.7],[1376,-4.2],[1406,-2.5],[1436,-5.0],[1466,-3.3],[1496,-4.2],[1540,0.8],[1570,1.3],[1735,1.3],[1750,-0.4],[1810,0],[1900,-0.4],[2019,0.4],[2139,1.3],[2229,0.8],[2289,-3.8],[2349,-1.7],[2394,-2.5],[2439,-1.3],[2499,0],[2559,7.5],[2619,4.2],[2678,2.5],[2738,7.5],[2798,5.0],[2858,5.8],[2918,4.2],[2963,7.5],[2978,24.6],[2993,7.5],[3038,4.2],[3098,5.0],[3157,4.2],[3202,7.5],[3247,3.3],[3307,0.8],[3352,3.3],[3412,5.8],[3472,1.7],[3532,2.5],[3592,0.8],[3643,8.4],[3697,5.8],[3757,1.7],[3817,0.8],[3876,0.4],[3936,0.8],[3996,-0.8],[4056,-1.7],[4116,-3.3],[4176,-5.8],[4236,-2.5],[4296,2.5],[4356,4.2],[4416,3.3],[4476,4.2],[4535,3.8],[4610,4.2],[4682,1.7],[4742,3.8],[4802,4.2],[4862,3.3],[4922,2.5],[4981,3.8],[5041,2.5],[5101,0.8],[5161,1.3],[5221,0.4],[5281,1.7],[5356,0.8],[5431,0.8],[5506,1.3],[5580,2.1],[5655,5.0],[5715,6.7],[5736,25.5],[5754,7.5],[5805,10.9],[5850,16.3],[5880,7.5],[5925,13.4],[5970,5.8],[6030,3.3],[6090,7.5],[6134,1.7],[6164,14.2],[6209,5.0],[6254,5.8],[6299,5.0],[6329,20.0],[6359,5.0],[6404,10.9],[6434,14.6],[6479,11.7],[6524,9.2],[6569,7.5],[6599,3.3],[6659,0.8],[6719,-0.8],[6763,-5.0],[6808,-6.7],[6868,-5.8],[6928,-3.3],[6988,-5.0],[7042,-12.1],[7063,-3.3],[7108,-6.7],[7153,-9.2],[7198,-6.7],[7243,-4.2],[7303,-2.5],[7363,-5.8],[7423,-4.2],[7482,-2.5],[7542,-0.8],[7602,0.8],[7662,2.5],[7722,1.7],[7767,8.4],[7812,10.0],[7857,14.2],[7902,11.7],[7941,17.1],[7976,12.5],[8021,15.0],[8066,10.9],[8081,18.4],[8126,9.2],[8171,18.0],[8201,9.2],[8246,13.4],[8306,8.4],[8366,9.2],[8426,11.7],[8486,13.4],[8531,10.0],[8590,15.0],[8635,14.2],[8695,12.5],[8755,10.9],[8791,1.7],[8845,0],[8890,0.4],[8935,-0.4],[8995,-1.7],[9054,-2.5],[9100,-0.8],[9144,4.2],[9189,3.3],[9234,5.0],[9279,3.3]];
const pct4_end85 = [[0,-18.4],[7,-9.2],[19,13.4],[37,5.0],[58,17.5],[73,9.2],[94,15.9],[112,30.0],[127,13.4],[148,5.8],[163,-0.8],[178,-6.7],[199,9.2],[223,5.8],[253,7.5],[283,5.0],[313,5.8],[343,4.2],[372,6.7],[402,3.3],[432,5.0],[477,1.7],[522,5.0],[567,9.2],[597,12.5],[627,7.5],[672,9.2],[717,8.4],[762,9.2],[792,18.0],[807,8.4],[851,10.9],[896,11.3],[941,11.7],[986,10.4],[1031,9.6],[1076,7.5],[1121,5.0],[1166,3.8],[1211,4.2],[1241,1.7],[1286,2.5],[1331,0.8],[1376,1.7],[1421,3.3],[1480,4.2],[1540,5.0],[1615,5.8],[1675,6.3],[1735,6.7],[1750,0.4],[1780,5.0],[1825,4.2],[1864,0.8],[1900,1.7],[1960,2.1],[2019,5.0],[2079,3.3],[2124,5.0],[2184,7.9],[2229,2.5],[2274,1.7],[2319,0.8],[2379,4.2],[2424,0.4],[2469,1.3],[2529,0.4],[2589,0.8],[2648,1.3],[2708,0.8],[2768,2.5],[2828,1.7],[2873,4.2],[2918,5.0],[2948,7.5],[2969,15.9],[2984,17.5],[3002,-4.2],[3038,-7.5],[3062,-10.9],[3098,-2.5],[3157,0.8],[3202,6.7],[3247,2.5],[3268,-17.5],[3280,-29.7],[3295,-10.9],[3313,-22.6],[3331,-2.5],[3367,1.7],[3412,2.5],[3457,-3.3],[3502,-4.2],[3547,-2.5],[3592,0.4],[3637,0],[3682,0.8],[3727,-0.8],[3787,0.8],[3831,-1.7],[3876,-0.8],[3921,-3.3],[3966,-0.8],[4011,4.2],[4056,-1.7],[4101,-2.5],[4146,-5.0],[4176,-8.4],[4206,-6.7],[4251,-4.2],[4296,1.7],[4356,2.1],[4416,2.5],[4476,2.9],[4535,2.1],[4610,1.7],[4667,-3.3],[4712,-5.8],[4757,-4.2],[4802,-1.7],[4862,2.5],[4922,3.8],[4981,4.2],[5026,3.3],[5071,0.8],[5116,-4.2],[5161,-1.7],[5206,-2.5],[5251,-5.0],[5281,1.7],[5326,3.8],[5371,3.3],[5431,3.8],[5491,3.8],[5551,2.5],[5610,-0.8],[5655,-0.4],[5700,-1.7],[5760,-3.3],[5805,-2.5],[5850,-5.8],[5895,-2.5],[5940,-4.2],[5985,1.7],[6030,-0.8],[6075,-3.3],[6120,-5.8],[6149,-10.0],[6179,-6.7],[6224,-3.3],[6269,-4.2],[6314,-6.7],[6329,-10.0],[6359,-3.3],[6404,-5.0],[6449,-3.3],[6494,-0.8],[6539,-1.7],[6599,-1.3],[6659,-0.8],[6719,-2.5],[6778,-4.2],[6823,-5.8],[6868,-3.3],[6913,-5.0],[6973,-7.5],[7003,-4.2],[7033,-7.5],[7078,-6.7],[7123,-5.0],[7168,-8.4],[7213,-2.5],[7258,-0.8],[7303,-3.3],[7348,-5.8],[7393,-3.3],[7453,-2.5],[7512,-1.7],[7572,-0.8],[7632,-0.4],[7692,-1.7],[7737,0.8],[7797,3.3],[7857,4.6],[7902,2.5],[7947,5.8],[7991,6.7],[8036,5.0],[8081,7.5],[8111,11.7],[8141,5.0],[8186,8.4],[8231,5.8],[8276,6.7],[8336,5.8],[8396,7.5],[8441,6.7],[8486,9.2],[8531,8.4],[8575,10.0],[8620,8.4],[8665,7.9],[8725,7.5],[8770,5.8],[8794,-7.5],[8830,-5.8],[8875,-7.5],[8920,-8.4],[8965,-10.0],[9010,-8.4],[9054,-11.7],[9090,-13.4],[9114,-6.7],[9159,-2.5],[9204,0.8],[9249,-1.7],[9279,-0.4]];

// ---- Annotations on panel 3 (place name, distance km, Hs at arrow tip) ----
const annoLabels = ["Bergen","Oslo","Cuxhaven","Amsterdam","Brest","A Corunya","Cadiz"];
const annoDist = [348,1607,2634,4816,5667,7509,9051];
const annoHs = [4.89,1.94,0.03,2.14,3.38,4.39,2.11];

// ================= LAYOUT / STYLE =================
const FONT = "'DejaVu Sans', 'Noto Sans', sans-serif";
const AX = "#262626";
const TICK = 16;
const svg = d3.select("#chart");
svg.append("rect").attr("width",1810).attr("height",1370).attr("fill","#fff");
const defs = svg.append("defs");
const fmt = d => String(d);

function drawPanel(cfg, series) {
  const x = d3.scaleLinear().domain(cfg.xDomain).range([cfg.left, cfg.right]);
  const y = d3.scaleLinear().domain(cfg.yDomain).range([cfg.bottom, cfg.top]);
  const clipId = "clip" + cfg.id;
  defs.append("clipPath").attr("id", clipId).append("rect")
    .attr("x", cfg.left).attr("y", cfg.top)
    .attr("width", cfg.right - cfg.left).attr("height", cfg.bottom - cfg.top);
  const g = svg.append("g");
  const plot = g.append("g").attr("clip-path", `url(#${clipId})`);
  const line = d3.line().x(d => x(d[0])).y(d => y(d[1]));
  series.forEach(s => {
    plot.append("path").datum(s.points).attr("d", line)
      .attr("fill","none").attr("stroke", s.color)
      .attr("stroke-width", cfg.lw).attr("stroke-linejoin","round");
  });
  if (cfg.zeroLine) {
    plot.append("line").attr("x1", cfg.left).attr("x2", cfg.right)
      .attr("y1", y(0)).attr("y2", y(0)).attr("stroke","#000").attr("stroke-width", 2.2);
  }
  const styleAxis = (sel) => {
    sel.select(".domain").remove();
    sel.attr("font-family", FONT).attr("font-size", 19.5).attr("color", AX);
    sel.selectAll(".tick line").attr("stroke-width", 1.5);
  };
  g.append("g").attr("transform", `translate(0,${cfg.bottom})`)
    .call(d3.axisBottom(x).tickValues(cfg.xTicks).tickSize(-TICK).tickSizeOuter(0).tickPadding(12).tickFormat(fmt)).call(styleAxis);
  g.append("g").attr("transform", `translate(0,${cfg.top})`)
    .call(d3.axisTop(x).tickValues(cfg.xTicks).tickSize(-TICK).tickSizeOuter(0).tickFormat("")).call(styleAxis);
  g.append("g").attr("transform", `translate(${cfg.left},0)`)
    .call(d3.axisLeft(y).tickValues(cfg.yTicks).tickSize(-TICK).tickSizeOuter(0).tickPadding(8).tickFormat(fmt)).call(styleAxis);
  g.append("g").attr("transform", `translate(${cfg.right},0)`)
    .call(d3.axisRight(y).tickValues(cfg.yTicks).tickSize(-TICK).tickSizeOuter(0).tickFormat("")).call(styleAxis);
  g.append("rect").attr("x", cfg.left).attr("y", cfg.top)
    .attr("width", cfg.right - cfg.left).attr("height", cfg.bottom - cfg.top)
    .attr("fill","none").attr("stroke", AX).attr("stroke-width", 2);
  g.append("text").attr("x", (cfg.left + cfg.right) / 2).attr("y", cfg.titleY)
    .attr("text-anchor","middle").attr("font-family", FONT).attr("font-weight","bold")
    .attr("font-size", 20).attr("fill","#000").text(cfg.title);
  if (cfg.xLabelY) {
    g.append("text").attr("x", (cfg.left + cfg.right) / 2).attr("y", cfg.xLabelY)
      .attr("text-anchor","middle").attr("font-family", FONT).attr("font-size", 20)
      .attr("fill", AX).text(xLabelText);
  }
  return {x, y};
}

function drawLegend(L) {
  const g = svg.append("g");
  g.append("rect").attr("x", L.x).attr("y", L.y).attr("width", L.w).attr("height", L.h)
    .attr("fill","#fff").attr("stroke", AX).attr("stroke-width", 1.5);
  seriesNames.forEach((name, i) => {
    const yy = L.row0 + i * L.step;
    g.append("line").attr("x1", L.lx1).attr("x2", L.lx2).attr("y1", yy).attr("y2", yy)
      .attr("stroke", seriesColors[i]).attr("stroke-width", 2);
    g.append("text").attr("x", L.tx).attr("y", yy + 6.3).attr("font-family", FONT)
      .attr("font-size", 18).attr("fill", AX).text(name);
  });
}

function yLabel(cx, cy) {
  svg.append("text").attr("transform", `translate(${cx},${cy}) rotate(-90)`)
    .attr("text-anchor","middle").attr("font-family", FONT).attr("font-size", 20)
    .attr("textLength", 373).attr("lengthAdjust","spacing")
    .attr("fill", AX).text(yLabelText);
}

// ---------- Panel 1 ----------
const futures1 = [mid45_1, mid85_1, end45_1, end85_1];
const s1 = [clim1].concat(futures1).map((vals, i) => ({color: seriesColors[i], points: d3.zip(dist1, vals)}));
drawPanel({id:1, left:81.5, right:1724, top:34.5, bottom:271.5, xDomain:[0,8230], yDomain:[0.12,8],
  xTicks:ticksX12, yTicks:ticksHs1, lw:2, title:title1, titleY:25}, s1);
drawLegend({x:505, y:47.7, w:318, h:118, lx1:516.6, lx2:577, tx:583, row0:61.7, step:22.1});

// ---------- Panel 2 ----------
const s2 = [pct2_mid45, pct2_mid85, pct2_end45, pct2_end85].map((pts, i) => ({color: seriesColors[i+1], points: pts}));
drawPanel({id:2, left:81.5, right:1724, top:365, bottom:603, xDomain:[0,8230], yDomain:[-30,30],
  xTicks:ticksX2, yTicks:ticksPct, lw:2, title:title2, titleY:355, xLabelY:655, zeroLine:true}, s2);
yLabel(30, 480);

// ---------- Panel 3 ----------
const s3 = [clim3, mid45_3, mid85_3, end45_3, end85_3].map((vals, i) => ({color: seriesColors[i], points: d3.zip(dist3, vals)}));
const p3 = drawPanel({id:3, left:113, right:1754.5, top:737, bottom:976, xDomain:[0,9282], yDomain:[0,8],
  xTicks:ticksX34, yTicks:ticksHs3, lw:1.3, title:title1, titleY:728}, s3);
drawLegend({x:602, y:755, w:318, h:118, lx1:613, lx2:673, tx:680, row0:770, step:22.3});

// annotations (text boxes in pixels, arrows anchored to data through scales)
const annoText = [
  {x:103, y:727, w:152}, {x:326, y:807, w:97}, {x:538.5, y:898, w:212.5},
  {x:945, y:807, w:244}, {x:1036.6, y:1034, w:112}, {x:1354.4, y:725, w:221.6}, {x:1672, y:778, w:122}
];
const annoArrow = [
  {len:90, dir:1}, {len:88, dir:1}, {len:70, dir:1}, {len:89, dir:1},
  {len:120, dir:-1, slant:-7}, {len:91, dir:1}, {len:90, dir:1}
];
const ag = svg.append("g");
annoLabels.forEach((lab, i) => {
  const t = annoText[i];
  ag.append("text").attr("x", t.x).attr("y", t.y).attr("font-family","'Liberation Sans', Arial, sans-serif")
    .attr("font-size", 45).attr("textLength", t.w).attr("lengthAdjust","spacingAndGlyphs")
    .attr("fill","#000").text(lab);
  const tx = p3.x(annoDist[i]), ty = p3.y(annoHs[i]);
  const a = annoArrow[i];
  const headL = 33, headW = 11;
  const baseY = ty - a.dir * headL;
  const endY = ty - a.dir * a.len;
  const slant = a.slant || 0;
  ag.append("line").attr("x1", tx + slant * 0.17).attr("y1", baseY).attr("x2", tx + slant).attr("y2", endY)
    .attr("stroke","#000").attr("stroke-width", 1.4);
  ag.append("path").attr("d", `M${tx},${ty} L${tx - headW},${baseY} L${tx + headW},${baseY} Z`).attr("fill","#000");
});

// ---------- Panel 4 ----------
const s4 = [pct4_mid45, pct4_mid85, pct4_end45, pct4_end85].map((pts, i) => ({color: seriesColors[i+1], points: pts}));
drawPanel({id:4, left:113, right:1754.5, top:1069.3, bottom:1308.7, xDomain:[0,9282], yDomain:[-30,30],
  xTicks:ticksX34, yTicks:ticksPct, lw:1.3, title:title2, titleY:1060, xLabelY:1360, zeroLine:true}, s4);
yLabel(61, 1188);
</script>
</body></html>
